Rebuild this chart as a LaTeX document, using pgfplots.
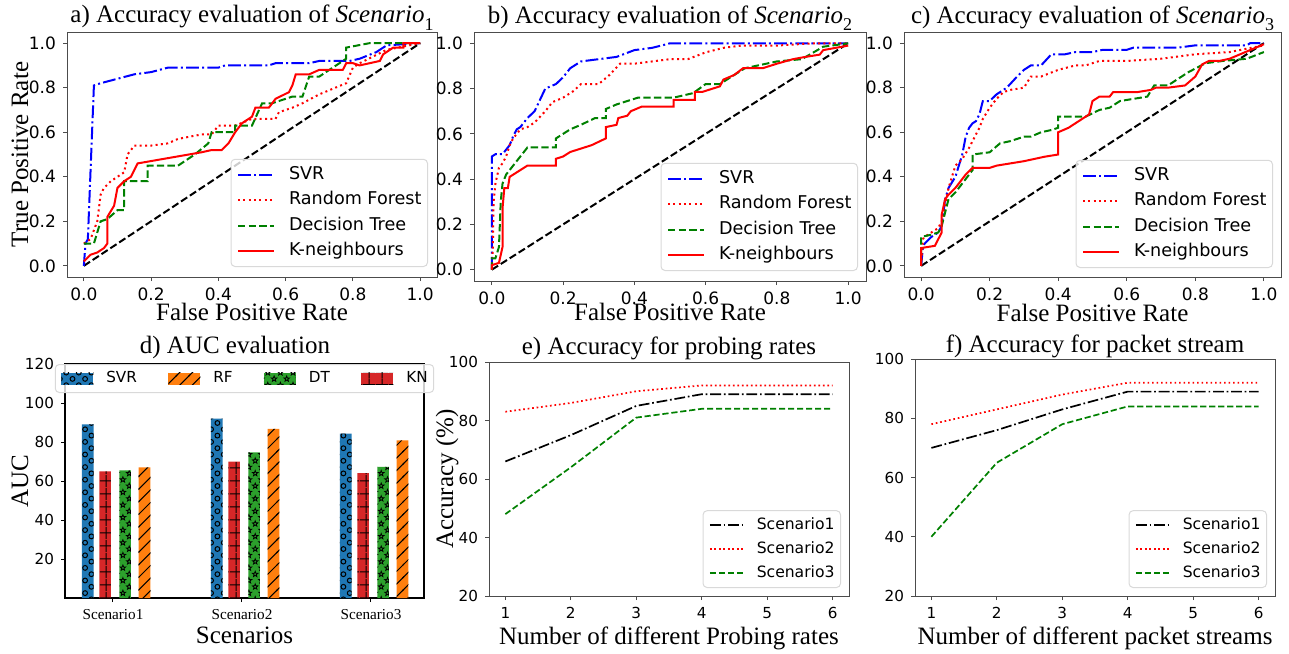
\documentclass[border=0pt]{standalone}
\usepackage{fontspec}
\setmainfont{Liberation Serif}
\newfontfamily\dejavu{DejaVu Sans}
\usepackage{pgfplots}
\pgfplotsset{compat=1.18}
\usetikzlibrary{patterns,patterns.meta}

\definecolor{mplgreen}{rgb}{0,0.5,0}
\definecolor{tabblue}{HTML}{1F77B4}
\definecolor{taborange}{HTML}{FF7F0E}
\definecolor{tabgreen}{HTML}{2CA02C}
\definecolor{tabred}{HTML}{D62728}

% hatch patterns of the bar chart
\tikzdeclarepattern{name=hcircles, type=uncolored,
  bottom left={(-0.5pt,-0.5pt)}, top right={(6.8pt,6.8pt)}, tile size={(6.3pt,6.3pt)},
  code={\draw[line width=0.5pt] (1.6pt,1.6pt) circle[radius=1.2pt];
        \draw[line width=0.5pt] (4.75pt,4.75pt) circle[radius=1.2pt];}}
\tikzdeclarepattern{name=hstars, type=uncolored,
  bottom left={(-0.5pt,-0.5pt)}, top right={(6.8pt,6.8pt)}, tile size={(6.3pt,6.3pt)},
  code={\foreach \c in {(1.6pt,1.6pt),(4.75pt,4.75pt)}{
        \draw[line width=0.4pt] \c +(90:1.45pt) -- +(126:0.6pt) -- +(162:1.45pt) -- +(198:0.6pt) -- +(234:1.45pt) -- +(270:0.6pt) -- +(306:1.45pt) -- +(342:0.6pt) -- +(18:1.45pt) -- +(54:0.6pt) -- cycle;}}}
\tikzdeclarepattern{name=hplus, type=uncolored,
  bottom left={(0pt,0pt)}, top right={(6.25pt,6.25pt)}, tile size={(6.25pt,6.25pt)},
  code={\draw[line width=0.5pt] (0pt,3.125pt) -- (6.25pt,3.125pt);
        \draw[line width=0.5pt] (3.125pt,0pt) -- (3.125pt,6.25pt);}}
\tikzdeclarepattern{name=hdiag, type=uncolored,
  bottom left={(-0.5pt,-0.5pt)}, top right={(6.8pt,6.8pt)}, tile size={(6.3pt,6.3pt)},
  code={\draw[line width=0.5pt] (-0.5pt,-0.5pt) -- (6.8pt,6.8pt);}}

\newcommand\sub[1]{\raisebox{-0.3em}{\fontsize{9}{10}\selectfont #1}}

\pgfplotsset{
  base/.style={scale only axis, anchor=south west,
    axis line style={black!70, line width=0.5pt},
    tick align=outside, xtick pos=bottom, ytick pos=left,
    major tick length=2pt, tick style={black!70, line width=0.5pt},
    /pgf/number format/assume math mode=true,
    label style={font=\fontsize{12.5}{14}\selectfont},
    title style={font=\fontsize{12.5}{14}\selectfont, at={(axis description cs:0.5,1)}, anchor=base, inner sep=0pt},
    no markers, legend cell align=left},
  roc/.style={base, xmin=-0.05, xmax=1.05, ymin=-0.05, ymax=1.05,
    xtick={0,0.2,0.4,0.6,0.8,1.0}, ytick={0,0.2,0.4,0.6,0.8,1.0},
    tick label style={font=\dejavu\fontsize{8.5}{10}\selectfont,
      /pgf/number format/fixed, /pgf/number format/fixed zerofill, /pgf/number format/precision=1},
    legend style={font=\dejavu\fontsize{8.8}{10}\selectfont, draw=black!15, line width=0.5pt,
      rounded corners=2pt, fill=white, fill opacity=0.8, text opacity=1,
      at={(1,0)}, anchor=south east, xshift=-4.5pt, yshift=5pt,
      inner xsep=3pt, inner ysep=2.5pt, row sep=2.6pt,
      nodes={inner xsep=0pt, inner ysep=1pt, text height=6.4pt, text depth=1.8pt},
      /tikz/every odd column/.append style={column sep=7pt}},
    legend image code/.code={\draw[##1] (0pt,0pt) -- (18pt,0pt);}},
  acc/.style={base, xmin=0.75, xmax=6.25, ymin=20, ymax=100,
    xtick={1,2,3,4,5,6}, ytick={20,40,60,80,100},
    tick label style={font=\dejavu\fontsize{7.6}{9}\selectfont},
    xlabel style={at={(axis description cs:0.5,0)}, anchor=base, yshift=-24pt},
    legend style={font=\dejavu\fontsize{7.8}{9}\selectfont, draw=black!15, line width=0.5pt,
      rounded corners=2pt, fill=white, fill opacity=0.8, text opacity=1,
      at={(1,0)}, anchor=south east, xshift=-4pt, yshift=4pt,
      inner xsep=3pt, inner ysep=2.5pt, row sep=2.6pt,
      nodes={inner xsep=0pt, inner ysep=1pt, text height=5.8pt, text depth=1.6pt},
      /tikz/every odd column/.append style={column sep=6.5pt}},
    legend image code/.code={\draw[##1] (0pt,0pt) -- (16.5pt,0pt);}},
  svr/.style={blue, line width=1pt, dash pattern=on 6.4pt off 1.6pt on 1pt off 1.6pt},
  rf/.style={red, line width=1pt, dash pattern=on 1pt off 1.65pt},
  dt/.style={mplgreen, line width=1pt, dash pattern=on 3.7pt off 1.6pt},
  kn/.style={red, line width=1pt, solid},
  chance/.style={black, line width=1pt, dash pattern=on 3.7pt off 1.6pt},
  sa/.style={black, line width=0.85pt, dash pattern=on 5.4pt off 1.4pt on 0.85pt off 1.4pt},
  sb/.style={red, line width=0.85pt, dash pattern=on 0.85pt off 1.4pt},
  sc/.style={mplgreen, line width=0.85pt, dash pattern=on 3.1pt off 1.4pt},
}

\begin{document}
\begin{tikzpicture}
\useasboundingbox (0,0) rectangle (644.5pt,-326.5pt);

% a) Scenario 1
\begin{axis}[roc, at={(33.5pt,-138.5pt)}, width=185pt, height=122.5pt,
  title={a) Accuracy evaluation of \textit{Scenario}\sub{1}}, title style={yshift=-1.4pt},
  xlabel={False Positive Rate}, ylabel={True Positive Rate},
  xlabel style={at={(axis description cs:0.5,0)}, anchor=base, yshift=-21.5pt},
  ylabel style={at={([xshift=-19.5pt]axis description cs:0,0.5)}, anchor=base}]
\addplot[chance, forget plot] coordinates {(0,0) (1,1)};
\addplot[svr] coordinates {(0,0) (0.005,0.1) (0.012,0.12) (0.03,0.81) (0.05,0.82) (0.1,0.84) (0.15,0.86) (0.2,0.87) (0.25,0.89) (0.4,0.89) (0.42,0.9) (0.55,0.9) (0.57,0.91) (0.67,0.91) (0.7,0.92) (0.79,0.92) (0.82,0.93) (0.87,0.96) (0.9,0.99) (1,1)};
\addlegendentry{SVR}
\addplot[rf] coordinates {(0,0.1) (0.02,0.12) (0.04,0.2) (0.05,0.32) (0.06,0.35) (0.08,0.38) (0.1,0.4) (0.12,0.42) (0.13,0.5) (0.15,0.54) (0.2,0.54) (0.25,0.55) (0.28,0.57) (0.35,0.59) (0.38,0.59) (0.4,0.63) (0.45,0.63) (0.5,0.66) (0.57,0.66) (0.58,0.69) (0.62,0.71) (0.65,0.73) (0.7,0.77) (0.78,0.82) (0.8,0.89) (0.82,0.91) (0.9,0.97) (1,1)};
\addlegendentry{Random Forest}
\addplot[dt] coordinates {(0,0.1) (0.03,0.1) (0.05,0.2) (0.07,0.21) (0.1,0.25) (0.12,0.25) (0.12,0.38) (0.19,0.38) (0.19,0.45) (0.28,0.45) (0.33,0.5) (0.37,0.55) (0.38,0.6) (0.45,0.6) (0.45,0.63) (0.5,0.63) (0.53,0.73) (0.56,0.73) (0.62,0.76) (0.65,0.76) (0.67,0.85) (0.7,0.85) (0.75,0.9) (0.78,0.93) (0.78,0.98) (0.85,1.0) (1,1)};
\addlegendentry{Decision Tree}
\addplot[kn] coordinates {(0,0.02) (0.02,0.05) (0.04,0.06) (0.06,0.08) (0.07,0.1) (0.07,0.22) (0.09,0.27) (0.1,0.35) (0.12,0.38) (0.14,0.4) (0.16,0.46) (0.35,0.51) (0.38,0.52) (0.41,0.52) (0.43,0.55) (0.45,0.6) (0.47,0.64) (0.5,0.67) (0.51,0.71) (0.55,0.71) (0.57,0.75) (0.61,0.78) (0.62,0.81) (0.63,0.86) (0.67,0.86) (0.7,0.88) (0.77,0.88) (0.78,0.91) (0.8,0.91) (0.82,0.9) (0.85,0.91) (0.88,0.92) (0.89,0.95) (0.92,0.98) (0.95,0.98) (0.95,1.0) (1,1)};
\addlegendentry{K-neighbours}
\end{axis}

% b) Scenario 2
\begin{axis}[roc, at={(237pt,-140.5pt)}, width=196pt, height=124.5pt,
  title={b) Accuracy evaluation of \textit{Scenario}\sub{2}}, title style={yshift=-1.7pt},
  legend style={xshift=0.5pt},
  xlabel={False Positive Rate},
  xlabel style={at={(axis description cs:0.5,0)}, anchor=base, yshift=-19.5pt}]
\addplot[chance, forget plot] coordinates {(0,0) (1,1)};
\addplot[svr] coordinates {(0,0) (0,0.5) (0.01,0.51) (0.03,0.51) (0.04,0.53) (0.05,0.55) (0.06,0.59) (0.07,0.62) (0.08,0.63) (0.1,0.67) (0.12,0.7) (0.15,0.8) (0.18,0.82) (0.2,0.85) (0.22,0.89) (0.25,0.92) (0.3,0.93) (0.35,0.94) (0.4,0.97) (0.45,0.98) (0.5,1.0) (1,1)};
\addlegendentry{SVR}
\addplot[rf] coordinates {(0,0) (0.003,0.1) (0.005,0.3) (0.01,0.38) (0.02,0.45) (0.03,0.47) (0.04,0.5) (0.05,0.55) (0.06,0.58) (0.08,0.62) (0.1,0.63) (0.12,0.65) (0.15,0.7) (0.17,0.74) (0.2,0.76) (0.23,0.79) (0.25,0.82) (0.3,0.82) (0.33,0.86) (0.36,0.91) (0.4,0.91) (0.45,0.92) (0.5,0.93) (0.55,0.93) (0.6,0.96) (0.65,0.98) (0.7,0.99) (0.8,0.99) (0.9,1.0) (1,1)};
\addlegendentry{Random Forest}
\addplot[dt] coordinates {(0,0) (0,0.05) (0.01,0.05) (0.02,0.1) (0.025,0.3) (0.03,0.38) (0.04,0.42) (0.06,0.46) (0.08,0.5) (0.1,0.54) (0.18,0.54) (0.18,0.58) (0.22,0.62) (0.25,0.64) (0.29,0.67) (0.32,0.67) (0.32,0.71) (0.35,0.73) (0.41,0.76) (0.51,0.76) (0.565,0.78) (0.6,0.82) (0.64,0.82) (0.68,0.86) (0.71,0.89) (0.8,0.92) (0.87,0.93) (0.93,0.985) (1,1)};
\addlegendentry{Decision Tree}
\addplot[kn] coordinates {(0,0) (0,0.02) (0.02,0.03) (0.03,0.1) (0.03,0.27) (0.035,0.36) (0.045,0.36) (0.05,0.41) (0.07,0.43) (0.1,0.46) (0.18,0.46) (0.18,0.49) (0.2,0.5) (0.22,0.52) (0.28,0.55) (0.32,0.58) (0.32,0.63) (0.35,0.64) (0.355,0.67) (0.38,0.68) (0.39,0.70) (0.42,0.72) (0.51,0.72) (0.51,0.75) (0.57,0.75) (0.57,0.785) (0.59,0.785) (0.64,0.81) (0.65,0.84) (0.68,0.86) (0.705,0.89) (0.76,0.89) (0.8,0.91) (0.845,0.93) (0.88,0.94) (0.92,0.95) (0.93,0.97) (1,0.99)};
\addlegendentry{K-neighbours}
\end{axis}

% c) Scenario 3
\begin{axis}[roc, at={(452pt,-138.5pt)}, width=188.5pt, height=122.5pt,
  title={c) Accuracy evaluation of \textit{Scenario}\sub{3}}, title style={yshift=-1.7pt},
  legend style={xshift=0.5pt, yshift=-0.5pt},
  xlabel={False Positive Rate},
  xlabel style={at={(axis description cs:0.5,0)}, anchor=base, yshift=-22pt}]
\addplot[chance, forget plot] coordinates {(0,0) (1,1)};
\addplot[svr] coordinates {(0,0) (0.005,0.08) (0.01,0.1) (0.03,0.13) (0.05,0.15) (0.06,0.18) (0.07,0.3) (0.08,0.35) (0.1,0.4) (0.11,0.45) (0.12,0.5) (0.13,0.58) (0.14,0.62) (0.15,0.64) (0.16,0.65) (0.17,0.68) (0.18,0.74) (0.2,0.74) (0.22,0.77) (0.25,0.8) (0.28,0.85) (0.3,0.88) (0.32,0.9) (0.35,0.9) (0.38,0.95) (0.42,0.95) (0.45,0.96) (0.5,0.96) (0.53,0.97) (0.6,0.97) (0.62,0.98) (0.75,0.98) (0.8,0.99) (0.95,0.99) (0.96,1.0) (1,1)};
\addlegendentry{SVR}
\addplot[rf] coordinates {(0,0) (0.005,0.12) (0.01,0.13) (0.03,0.15) (0.05,0.17) (0.06,0.2) (0.07,0.27) (0.08,0.35) (0.09,0.4) (0.1,0.45) (0.12,0.48) (0.14,0.53) (0.15,0.56) (0.17,0.62) (0.18,0.66) (0.2,0.71) (0.22,0.75) (0.24,0.78) (0.26,0.79) (0.3,0.8) (0.32,0.85) (0.35,0.85) (0.4,0.88) (0.45,0.9) (0.48,0.9) (0.52,0.92) (0.6,0.92) (0.7,0.93) (0.8,0.95) (0.9,0.96) (1,0.99)};
\addlegendentry{Random Forest}
\addplot[dt] coordinates {(0,0) (0,0.13) (0.03,0.14) (0.05,0.15) (0.06,0.18) (0.07,0.24) (0.08,0.3) (0.1,0.33) (0.12,0.37) (0.14,0.41) (0.15,0.43) (0.15,0.5) (0.2,0.51) (0.23,0.55) (0.26,0.56) (0.3,0.58) (0.32,0.58) (0.35,0.6) (0.38,0.61) (0.4,0.62) (0.4,0.67) (0.48,0.67) (0.52,0.7) (0.55,0.71) (0.58,0.74) (0.62,0.75) (0.66,0.76) (0.68,0.81) (0.72,0.81) (0.78,0.87) (0.83,0.91) (0.88,0.92) (0.95,0.93) (1,0.96)};
\addlegendentry{Decision Tree}
\addplot[kn] coordinates {(0,0) (0,0.08) (0.04,0.09) (0.05,0.12) (0.06,0.15) (0.06,0.23) (0.07,0.3) (0.08,0.32) (0.1,0.35) (0.11,0.37) (0.12,0.39) (0.13,0.41) (0.15,0.44) (0.2,0.44) (0.22,0.45) (0.26,0.46) (0.3,0.47) (0.36,0.49) (0.4,0.5) (0.4,0.6) (0.43,0.62) (0.45,0.64) (0.48,0.67) (0.49,0.68) (0.5,0.74) (0.52,0.76) (0.55,0.76) (0.56,0.78) (0.63,0.78) (0.67,0.79) (0.685,0.8) (0.72,0.8) (0.77,0.81) (0.8,0.85) (0.82,0.905) (0.84,0.92) (0.87,0.92) (0.9,0.93) (1,0.995)};
\addlegendentry{K-neighbours}
\end{axis}

% d) AUC bars
\begin{axis}[base, at={(32.5pt,-299pt)}, width=179.5pt, height=117pt,
  axis line style={black, line width=0.6pt}, tick style={black},
  xmin=-0.372, xmax=2.411, ymin=0, ymax=120,
  xtick={0,1,2}, xticklabels={Scenario1,Scenario2,Scenario3}, ytick={20,40,60,80,100,120},
  xticklabel style={font=\fontsize{7.6}{9}\selectfont},
  yticklabel style={font=\dejavu\fontsize{7.6}{9}\selectfont},
  title={d) AUC evaluation}, title style={yshift=-0.5pt, xshift=-4.75pt},
  xlabel={Scenarios}, ylabel={AUC},
  xlabel style={at={(axis description cs:0.5,0)}, anchor=base, yshift=-22.5pt},
  ylabel style={at={([xshift=-18.5pt]axis description cs:0,0.5)}, anchor=base},
  legend columns=4,
  legend style={font=\dejavu\fontsize{7.6}{9}\selectfont, at={(0.5,1)}, anchor=north,
    draw=black!15, line width=0.5pt, rounded corners=2pt, fill=white, fill opacity=0.8, text opacity=1,
    inner xsep=3pt, inner ysep=3.4pt,
    nodes={inner sep=0pt, text height=5.6pt, text depth=1.6pt},
    /tikz/every odd column/.append style={column sep=6.5pt},
    /tikz/every even column/.append style={column sep=15.7pt}},
  legend image code/.code={\fill[#1, sharp corners, fill opacity=1] (0pt,-3pt) rectangle (16pt,3pt);}]
\addplot[ybar, bar width=0.0907, bar shift=-0.196, fill=tabblue, draw=none,
  postaction={pattern=hcircles, pattern color=black}] coordinates {(0,89) (1,92) (2,84.3)};
\addlegendentry{SVR}
\addplot[ybar, bar width=0.0907, bar shift=0.244, fill=taborange, draw=none,
  postaction={pattern=hdiag, pattern color=black}] coordinates {(0,67) (1,86.7) (2,80.9)};
\addlegendentry{RF}
\addplot[ybar, bar width=0.0907, bar shift=0.094, fill=tabgreen, draw=none,
  postaction={pattern=hstars, pattern color=black}] coordinates {(0,65.5) (1,74.7) (2,67.2)};
\addlegendentry{DT}
\addplot[ybar, bar width=0.0907, bar shift=-0.061, fill=tabred, draw=none,
  postaction={pattern=hplus, pattern color=black}] coordinates {(0,65) (1,70) (2,64)};
\addlegendentry{KN}
\end{axis}

% e) probing rates
\begin{axis}[acc, at={(244.5pt,-298pt)}, width=180pt, height=117pt,
  title={e) Accuracy for probing rates}, title style={yshift=-2pt},
  xlabel={Number of different Probing rates}, ylabel={Accuracy (\%)},
  ylabel style={at={([xshift=-18pt]axis description cs:0,0.5)}, anchor=base}]
\addplot[sa] coordinates {(1,66) (2,75) (3,85) (4,89) (5,89) (6,89)};
\addlegendentry{Scenario1}
\addplot[sb] coordinates {(1,83) (2,86) (3,90) (4,92) (5,92) (6,92)};
\addlegendentry{Scenario2}
\addplot[sc] coordinates {(1,48) (2,64) (3,81) (4,84) (5,84) (6,84)};
\addlegendentry{Scenario3}
\end{axis}

% f) packet streams
\begin{axis}[acc, at={(457.5pt,-298pt)}, width=180pt, height=118.5pt,
  title={f) Accuracy for packet stream}, title style={yshift=-2.8pt},
  xlabel={Number of different packet streams}]
\addplot[sa] coordinates {(1,70) (2,76) (3,83) (4,89) (5,89) (6,89)};
\addlegendentry{Scenario1}
\addplot[sb] coordinates {(1,78) (2,83) (3,88) (4,92) (5,92) (6,92)};
\addlegendentry{Scenario2}
\addplot[sc] coordinates {(1,40) (2,65) (3,78) (4,84) (5,84) (6,84)};
\addlegendentry{Scenario3}
\end{axis}
\end{tikzpicture}
\end{document}
